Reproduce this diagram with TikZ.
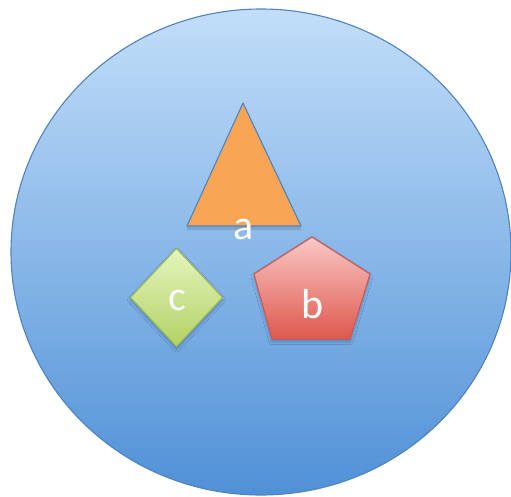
\documentclass[tikz,border=0pt]{standalone}
\usepackage{fontspec}
\setmainfont{Carlito}
\usetikzlibrary{shapes.geometric,shadows.blur}
\definecolor{circTop}{RGB}{194,222,249}
\definecolor{circBot}{RGB}{80,145,215}
\definecolor{blueLine}{RGB}{80,130,190}
\definecolor{triFill}{RGB}{248,166,85}
\definecolor{pentTop}{RGB}{250,200,198}
\definecolor{pentBot}{RGB}{222,88,78}
\definecolor{pentLine}{RGB}{205,90,85}
\definecolor{diaTop}{RGB}{230,244,190}
\definecolor{diaBot}{RGB}{178,210,100}
\definecolor{diaLine}{RGB}{155,187,89}
\tikzset{
  shapeshadow/.style={blur shadow={shadow blur steps=6, shadow xshift=0pt, shadow yshift=-2.5pt, shadow opacity=25, shadow blur radius=3pt}},
  lbl/.style={text=white, font=\fontsize{42}{42}\selectfont, inner sep=0pt},
}
\begin{document}
\begin{tikzpicture}[x=1pt,y=-1pt]
\useasboundingbox (0,0) rectangle (511,496);
% big circle
\shade[top color=circTop, bottom color=circBot, draw=blueLine, line width=1.1pt]
  (261,252) ellipse [x radius=250, y radius=243];
% triangle
\coordinate (tA) at (243,103);
\coordinate (tL) at (187,226);
\coordinate (tR) at (301,226);
\fill[black, opacity=0.12] ([yshift=-4pt]tL) -- ([yshift=-4pt]tR) -- ([yshift=4pt]tR) -- ([yshift=4pt]tL) -- cycle;
\filldraw[fill=triFill, draw=blueLine, line width=1.1pt, line join=round] (tA) -- (tR) -- (tL) -- cycle;
\node[lbl] (a) at (244,229) {a};
% pentagon
\coordinate (p1) at (312,237);
\coordinate (p2) at (370,274);
\coordinate (p3) at (350,339);
\coordinate (p4) at (272,339);
\coordinate (p5) at (254,274);
\shade[top color=pentTop, bottom color=pentBot, draw=pentLine, line width=1.1pt, line join=round, shapeshadow]
  (p1) -- (p2) -- (p3) -- (p4) -- (p5) -- cycle;
\node[lbl] (b) at (313,304) {b};
% diamond
\node[diamond, minimum width=92pt, minimum height=98pt, inner sep=0pt, outer sep=0pt,
      top color=diaTop, bottom color=diaBot, draw=diaLine, line width=1.1pt, shapeshadow] (dia) at (176.5,297.5) {};
\node[lbl] (c) at (177,300) {c};
\end{tikzpicture}
\end{document}
